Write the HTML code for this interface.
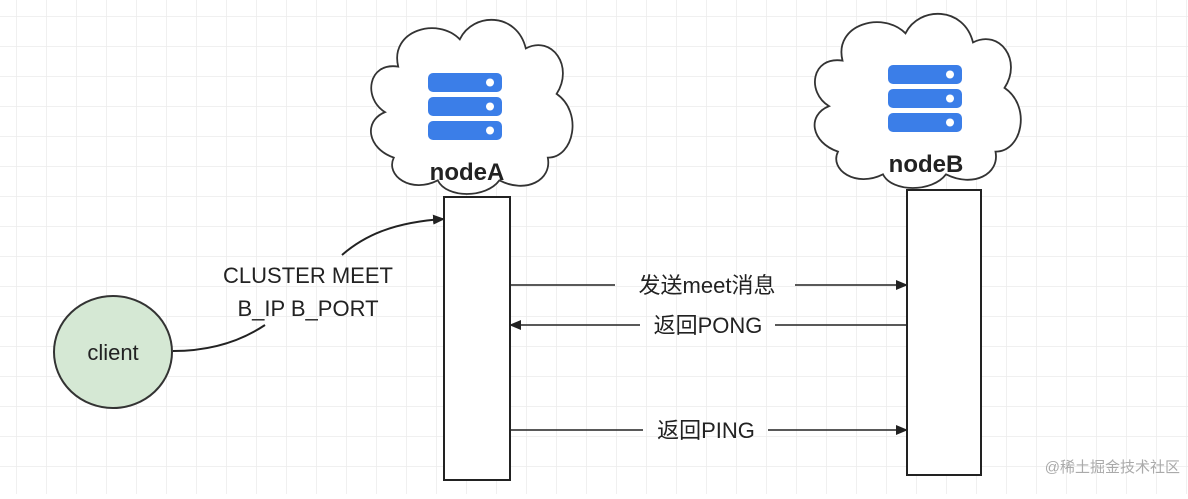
<!DOCTYPE html>
<html><head><meta charset="utf-8"><style>
body{margin:0;background:#fff}
svg text{font-family:"Liberation Sans","Noto Sans CJK SC",sans-serif;fill:#222}
</style></head><body>
<svg width="1188" height="494" xmlns="http://www.w3.org/2000/svg">
<defs>
<pattern id="g" width="30" height="30" patternUnits="userSpaceOnUse" x="17" y="17">
<path d="M30 0V30H0" fill="none" stroke="#ececec" stroke-width="1.5"/></pattern>
<marker id="ar" markerWidth="12" markerHeight="10" refX="11" refY="5" orient="auto" markerUnits="userSpaceOnUse">
<path d="M0 0L12 5L0 10z" fill="#222"/></marker>
<g id="srv">
<rect x="0" y="0" width="74" height="19" rx="5" fill="#3b7ee8"/>
<rect x="0" y="24" width="74" height="19" rx="5" fill="#3b7ee8"/>
<rect x="0" y="48" width="74" height="19" rx="5" fill="#3b7ee8"/>
<circle cx="62" cy="9.5" r="4" fill="#fff"/><circle cx="62" cy="33.5" r="4" fill="#fff"/><circle cx="62" cy="57.5" r="4" fill="#fff"/>
</g>
<path id="cloud" d="M0 110 C-25 95 -20 55 15 60 C5 20 60 5 85 30 C100 0 150 0 160 40 C190 25 215 60 195 90 C225 110 215 160 185 160 C190 185 160 200 130 185 C115 205 70 205 60 185 C30 200 0 180 10 160 C-20 150 -25 120 0 110 Z" fill="#fff" stroke="#333" stroke-width="2"/>
</defs>
<rect width="1188" height="494" fill="url(#g)"/>
<g transform="translate(385,12) scale(0.88,0.91)"><use href="#cloud"/></g>
<g transform="translate(829,6) scale(0.9,0.91)"><use href="#cloud"/></g>
<use href="#srv" x="428" y="73"/>
<use href="#srv" x="888" y="65"/>
<text x="467" y="180" text-anchor="middle" font-size="24" font-weight="bold">nodeA</text>
<text x="926" y="172" text-anchor="middle" font-size="24" font-weight="bold">nodeB</text>
<rect x="444" y="197" width="66" height="283" fill="#fff" stroke="#222" stroke-width="2"/>
<rect x="907" y="190" width="74" height="285" fill="#fff" stroke="#222" stroke-width="2"/>
<ellipse cx="113" cy="352" rx="59" ry="56" fill="#d5e8d4" stroke="#333" stroke-width="2"/>
<text x="113" y="360" text-anchor="middle" font-size="22">client</text>
<path d="M173 351 C220 351 250 335 265 325" fill="none" stroke="#222" stroke-width="2"/>
<path d="M342 255 C365 235 395 222 444 219" fill="none" stroke="#222" stroke-width="2" marker-end="url(#ar)"/>
<text x="308" y="283" text-anchor="middle" font-size="22">CLUSTER MEET</text>
<text x="308" y="316" text-anchor="middle" font-size="22">B_IP B_PORT</text>
<line x1="510" y1="285" x2="615" y2="285" stroke="#222" stroke-width="1.5"/>
<line x1="795" y1="285" x2="907" y2="285" stroke="#222" stroke-width="1.5" marker-end="url(#ar)"/>
<text x="707" y="293" text-anchor="middle" font-size="22">发送meet消息</text>
<line x1="907" y1="325" x2="775" y2="325" stroke="#222" stroke-width="1.5"/>
<line x1="640" y1="325" x2="510" y2="325" stroke="#222" stroke-width="1.5" marker-end="url(#ar)"/>
<text x="708" y="333" text-anchor="middle" font-size="22">返回PONG</text>
<line x1="510" y1="430" x2="643" y2="430" stroke="#222" stroke-width="1.5"/>
<line x1="768" y1="430" x2="907" y2="430" stroke="#222" stroke-width="1.5" marker-end="url(#ar)"/>
<text x="706" y="438" text-anchor="middle" font-size="22">返回PING</text>
<text x="1180" y="472" text-anchor="end" font-size="15" style="fill:#aaa">@稀土掘金技术社区</text>
</svg>
</body></html>
